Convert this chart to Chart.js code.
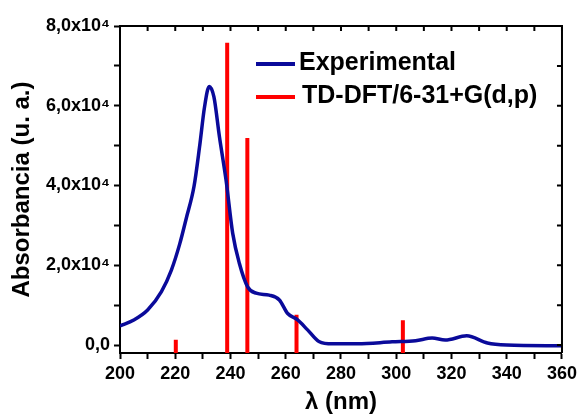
<!DOCTYPE html>
<html>
<head>
<meta charset="utf-8">
<script src="https://cdn.jsdelivr.net/npm/chart.js@4/dist/chart.umd.min.js"></script>
<style>
  html, body { margin: 0; padding: 0; background: #fff; }
  canvas { display: block; }
</style>
</head>
<body>
<canvas id="uvChart" width="581" height="414"></canvas>
<script>
// UV-Vis spectrum: experimental curve vs TD-DFT transitions
const expWavelength = [200, 205, 210, 215, 218.6, 221.6, 224, 226.8, 228.8, 230.6, 232.3, 234, 236, 238.4,
                       240.8, 243.2, 246.2, 249.3, 254, 257.7, 260.7, 264.3, 267.9, 272, 277, 286,
                       298.5, 307, 313, 317.7, 325.5, 333, 340, 360];
const expAbsorbance = [4800, 6300, 8800, 13400, 18800, 25300, 31800, 39800, 49700, 59700, 64800, 62200, 52200, 41300,
                       28000, 20500, 14600, 13000, 12500, 11300, 7900, 6300, 3800, 900, 300, 300,
                       800, 1100, 1750, 1250, 2300, 500, 0, -200];

const calcWavelength = [220.2, 238.8, 246.1, 263.9, 302.4];
const calcIntensity  = [1300, 75800, 51900, 7600, 6200];

const xTicks = [200, 210, 220, 230, 240, 250, 260, 270, 280, 290, 300, 310, 320, 330, 340, 350, 360];
const yTicks = [0, 10000, 20000, 30000, 40000, 50000, 60000, 70000, 80000];
const yTickLabels = ['0,0', '', '2,0x10\u2074', '', '4,0x10\u2074', '', '6,0x10\u2074', '', '8,0x10\u2074'];

const legendItems = [
  { label: 'Experimental', color: '#0a0a9a' },
  { label: 'TD-DFT/6-31+G(d,p)', color: '#ff0000' }
];

const Y_FLOOR = -2000;

// experimental curve as {x,y}
const expPoints = expWavelength.map((w, i) => ({ x: w, y: expAbsorbance[i] }));

// stick spectrum: vertical segments separated by gaps
const stickPoints = [];
calcWavelength.forEach((w, i) => {
  stickPoints.push({ x: w, y: Y_FLOOR });
  stickPoints.push({ x: w, y: calcIntensity[i] });
  stickPoints.push({ x: w, y: null });
});

Chart.defaults.font.family = '"Liberation Sans", Arial, sans-serif';
Chart.defaults.color = '#000';

// box frame on top/right with inward ticks, plus the in-plot legend
const framePlugin = {
  id: 'frame',
  afterDraw(chart) {
    const { ctx, chartArea: a, scales } = chart;
    ctx.save();
    ctx.strokeStyle = '#000';
    ctx.lineWidth = 2;
    ctx.beginPath();
    ctx.moveTo(a.left, a.top);
    ctx.lineTo(a.right, a.top);
    ctx.lineTo(a.right, a.bottom);
    ctx.stroke();
    ctx.beginPath();
    xTicks.forEach(v => {
      const px = scales.x.getPixelForValue(v);
      ctx.moveTo(px, a.top);
      ctx.lineTo(px, a.top + 5);
    });
    yTicks.forEach(v => {
      const py = scales.y.getPixelForValue(v);
      ctx.moveTo(a.right, py);
      ctx.lineTo(a.right - 5, py);
    });
    ctx.stroke();

    // legend
    ctx.font = 'bold 25px "Liberation Sans", Arial, sans-serif';
    ctx.textBaseline = 'middle';
    ctx.fillStyle = '#000';
    const rows = [64, 97];
    legendItems.forEach((it, i) => {
      ctx.strokeStyle = it.color;
      ctx.lineWidth = 4;
      ctx.beginPath();
      ctx.moveTo(256, rows[i]);
      ctx.lineTo(295, rows[i]);
      ctx.stroke();
      ctx.fillText(it.label, 299 + i * 3, rows[i] - 1);
    });
    ctx.restore();
  }
};

new Chart(document.getElementById('uvChart'), {
  type: 'line',
  data: {
    datasets: [
      {
        label: legendItems[0].label,
        data: expPoints,
        borderColor: legendItems[0].color,
        borderWidth: 3.5,
        pointRadius: 0,
        cubicInterpolationMode: 'monotone'
      },
      {
        label: legendItems[1].label,
        data: stickPoints,
        borderColor: legendItems[1].color,
        borderWidth: 4,
        pointRadius: 0,
        spanGaps: false
      }
    ]
  },
  options: {
    responsive: false,
    animation: false,
    events: [],
    layout: { padding: { top: 26, right: 17, left: 0, bottom: 0 } },
    plugins: { legend: { display: false }, tooltip: { enabled: false } },
    scales: {
      x: {
        type: 'linear',
        min: 200,
        max: 360,
        afterFit: s => { s.height = 61; },
        afterBuildTicks: s => { s.ticks = xTicks.map(v => ({ value: v })); },
        ticks: {
          autoSkip: false,
          maxRotation: 0,
          padding: 4,
          font: { size: 18, weight: 'bold' },
          callback: v => (v % 20 === 0 ? String(v) : '')
        },
        grid: { drawOnChartArea: false, tickLength: 6, tickWidth: 2, tickColor: '#000' },
        border: { display: true, width: 2, color: '#000' },
        title: {
          display: true,
          text: '\u03bb (nm)',
          font: { size: 24, weight: 'bold', lineHeight: 1 },
          padding: { top: 0, bottom: 0 }
        }
      },
      y: {
        min: Y_FLOOR,
        max: 80000,
        afterFit: s => { s.width = 120; },
        afterBuildTicks: s => { s.ticks = yTicks.map(v => ({ value: v })); },
        ticks: {
          autoSkip: false,
          padding: 4,
          font: { size: 18, weight: 'bold' },
          callback: v => yTickLabels[yTicks.indexOf(v)]
        },
        grid: { drawOnChartArea: false, tickLength: 6, tickWidth: 2, tickColor: '#000' },
        border: { display: true, width: 2, color: '#000' },
        title: {
          display: true,
          text: 'Absorbancia (u. a.)',
          font: { size: 24, weight: 'bold', lineHeight: 1 },
          padding: { top: 10, bottom: 0 }
        }
      }
    }
  },
  plugins: [framePlugin]
});
</script>
</body>
</html>
